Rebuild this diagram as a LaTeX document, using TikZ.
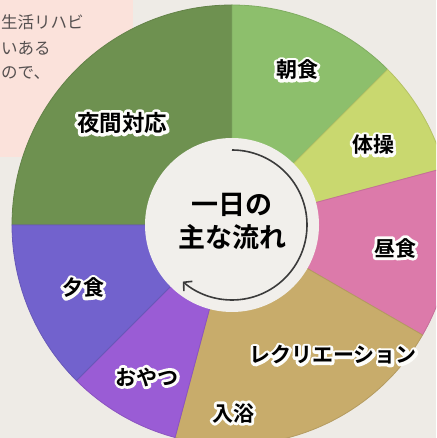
\documentclass[tikz,border=0pt]{standalone}
\usepackage{fontspec}
\usetikzlibrary{arrows.meta}

\newfontfamily\jpfont{Noto Sans CJK JP}
\newfontfamily\jpbold{Noto Sans CJK JP Bold}
\newfontfamily\jphalo{Noto Sans CJK JP Bold}[FakeBold=27]
\definecolor{halowhite}{RGB}{253,253,250}
% white rim round a label: a heavily stroked white copy under the text
\newcommand\halolabel[1]{\rlap{\textcolor{halowhite}{\jphalo #1}}#1}

\definecolor{bgbeige}{HTML}{EEEBE6}
\definecolor{memopink}{HTML}{FBE2DB}
\definecolor{memotext}{HTML}{555050}
\definecolor{nightgreen}{HTML}{6E9150}
\definecolor{morninggreen}{HTML}{8DBF6C}
\definecolor{exerciselime}{HTML}{C9D86F}
\definecolor{lunchpink}{HTML}{DC7AAA}
\definecolor{bathtan}{HTML}{C8AC6B}
\definecolor{snackpurple}{HTML}{9A5CD5}
\definecolor{dinnerviolet}{HTML}{7262CD}
\definecolor{hubwhite}{HTML}{F1EFEB}
\definecolor{arrowgray}{HTML}{3B3B3B}

\begin{document}
\begin{tikzpicture}[x=1pt,y=1pt]
	\tikzstyle{seglabel}=[font=\fontsize{21}{21}\selectfont\jpbold, inner sep=0pt, line join=round]
	\tikzstyle{hubtext}=[font=\fontsize{27}{33}\selectfont\jpbold, align=center, inner sep=0pt]
	\tikzstyle{memoline}=[anchor=west, font=\fontsize{16.5}{16.5}\selectfont\jpfont, text=memotext, inner sep=0pt]
	\useasboundingbox (0,0) rectangle (436,438);
	\clip (0,0) rectangle (436,438);
	\fill[bgbeige] (0,0) rectangle (436,438);

	% memo card behind the chart
	\fill[memopink] (0,281) rectangle (133,438);
	\node[memoline] (memo1) at (1,416) {生活リハビ};
	\node[memoline] (memo2) at (1,390) {いある};
	\node[memoline] (memo3) at (1,365) {ので、};

	% pie
	\coordinate (hub) at (232,213);
	\foreach \from/\to/\col in {90/180/nightgreen,45/90/morninggreen,15/45/exerciselime,-30/15/lunchpink,-105/-30/bathtan,-135/-105/snackpurple,180/225/dinnerviolet}
		\filldraw[fill=\col, draw=\col!90!black, line width=0.8pt] (hub) -- ++(\from:220) arc[start angle=\from, end angle=\to, radius=220] -- cycle;

	\fill[hubwhite] (hub) circle[radius=87];
	\path (hub) ++(90:75) coordinate (flowstart);
	\draw[arrowgray, line width=1.6pt, -{Straight Barb[length=6pt,width=13pt]}] (flowstart) arc[start angle=90, end angle=-131, radius=75];
	\node[hubtext] (hubtitle) at (232,216) {一日の\\主な流れ};

	\node[seglabel] (breakfast) at (297,368) {\halolabel{朝食}};
	\node[seglabel] (exercise) at (373,293) {\halolabel{体操}};
	\node[seglabel] (lunch) at (395,190) {\halolabel{昼食}};
	\node[seglabel] (recreation) at (333,83) {\halolabel{レクリエーション}};
	\node[seglabel] (bath) at (233,25) {\halolabel{入浴}};
	\node[seglabel] (snack) at (147,61) {\halolabel{おやつ}};
	\node[seglabel] (dinner) at (83,150) {\halolabel{夕食}};
	\node[seglabel, font=\fontsize{22.5}{22.5}\selectfont\jpbold] (night) at (122,315) {\halolabel{夜間対応}};
\end{tikzpicture}
\end{document}
